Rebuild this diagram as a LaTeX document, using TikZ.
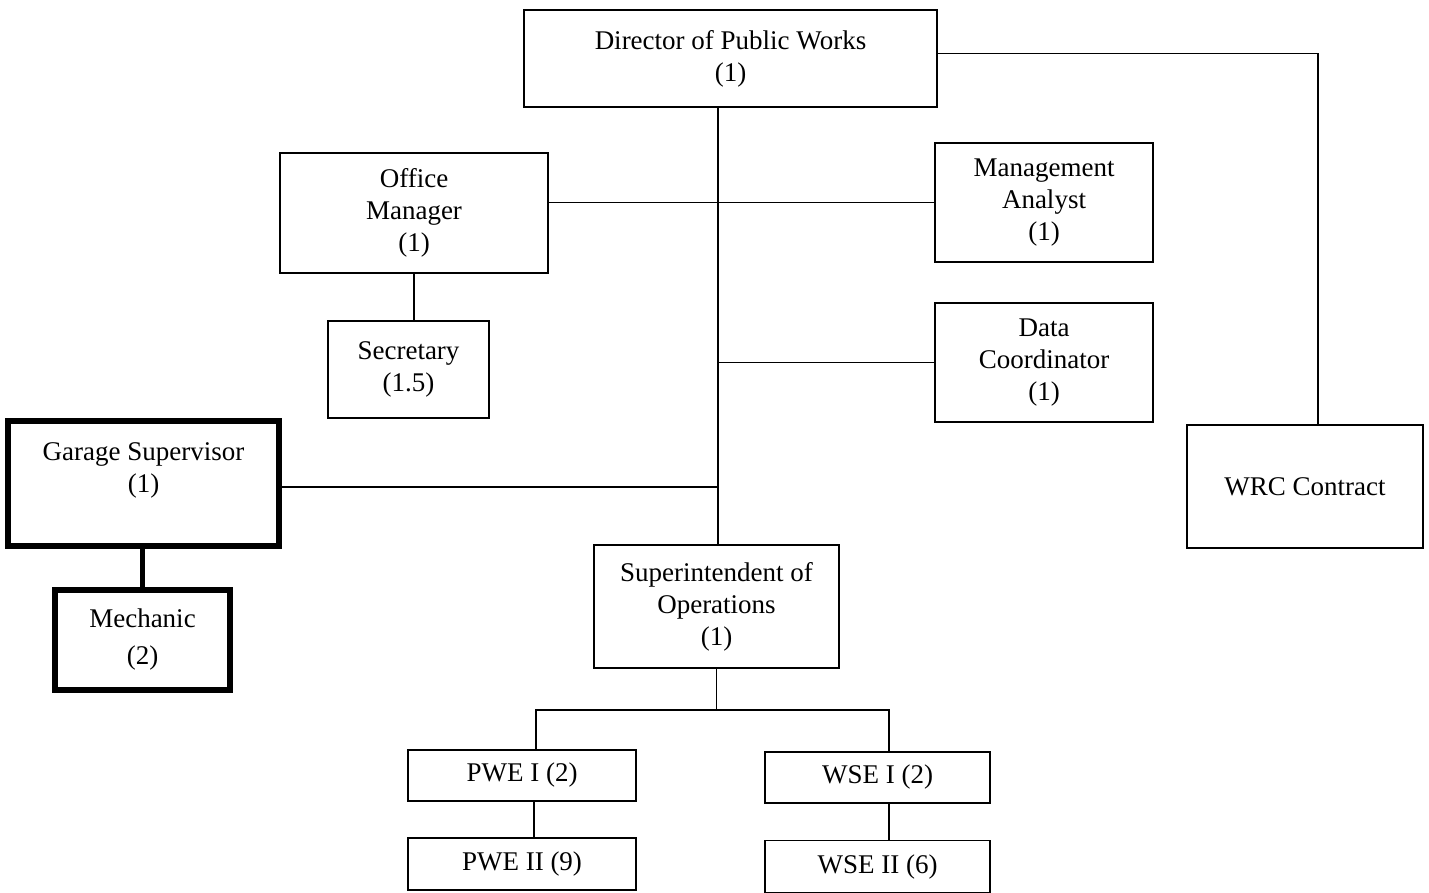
\documentclass[tikz,border=0pt]{standalone}
\usepackage{fontspec}
\setmainfont{Liberation Serif}
\begin{document}
\begin{tikzpicture}[x=1pt,y=-1pt,
  box/.style={draw, line width=1.6pt, inner sep=0pt, align=center,
    font=\fontsize{27}{32}\selectfont},
  heavy/.style={box, line width=5.5pt},
  link/.style={line width=1.6pt},
  heavylink/.style={line width=5.5pt}]
\useasboundingbox (0,0) rectangle (1429,893);

% boxes
\node[box, minimum width=413pt, minimum height=97pt] (dir) at (730.5,58.5) {Director of Public Works\\(1)};
\node[box, minimum width=268pt, minimum height=120pt] (om) at (414,213) {Office\\Manager\\(1)};
\node[box, minimum width=218pt, minimum height=119pt] (ma) at (1044,202.5) {Management\\Analyst\\(1)};
\node[box, minimum width=161pt, minimum height=97pt] (sec) at (408.5,369.5) {Secretary\\(1.5)};
\node[box, minimum width=218pt, minimum height=119pt] (dc) at (1044,362.5) {Data\\Coordinator\\(1)};
\node[heavy, minimum width=271pt, minimum height=125pt] (gs) at (143.5,483.5) {Garage Supervisor\\(1)\\ };
\node[heavy, minimum width=175pt, minimum height=100pt, font=\fontsize{27}{37}\selectfont] (mech) at (142.5,640) {Mechanic\\(2)};
\node[box, minimum width=236pt, minimum height=123pt] (wrc) at (1305,486.5) {WRC Contract};
\node[box, minimum width=245pt, minimum height=123pt] (sup) at (716.5,606.5) {Superintendent of\\Operations\\(1)};
\node[box, minimum width=228pt, minimum height=51pt] (pwe1) at (522,775.5) {PWE I (2)};
\node[box, minimum width=225pt, minimum height=51pt] (wse1) at (877.5,777.5) {WSE I (2)};
\node[box, minimum width=228pt, minimum height=52pt] (pwe2) at (522,864) {PWE II (9)};
\node[box, minimum width=225pt, minimum height=52pt] (wse2) at (877.5,866.5) {WSE II (6)};

% reference points for the main trunk and the lower branch bar
\coordinate (trunk) at (718,0);
\coordinate (bar) at (716,710);

% connectors
\draw[link] (dir.south -| trunk) -- (sup.north -| trunk);
\draw[link] ([yshift=5pt]dir.east) -| ([xshift=13pt]wrc.north);
\draw[link] (om.east |- ma.west) -- (ma.west);
\draw[link] (dc.west) -- (dc.west -| trunk);
\draw[link] ([yshift=-3.5pt]gs.east) -- ([yshift=-3.5pt]gs.east -| trunk);
\draw[link] (om.south) -- (om.south |- sec.north);
\draw[heavylink] (mech.north) -- (mech.north |- gs.south);
\draw[link] (sup.south) -- (sup.south |- bar);
\draw[link] ([xshift=14pt]pwe1.north) |- (bar) -| ([xshift=11.5pt]wse1.north);
\draw[link] ([xshift=12pt]pwe1.south) -- ([xshift=12pt]pwe2.north);
\draw[link] ([xshift=11.5pt]wse1.south) -- ([xshift=11.5pt]wse2.north);
\end{tikzpicture}
\end{document}
